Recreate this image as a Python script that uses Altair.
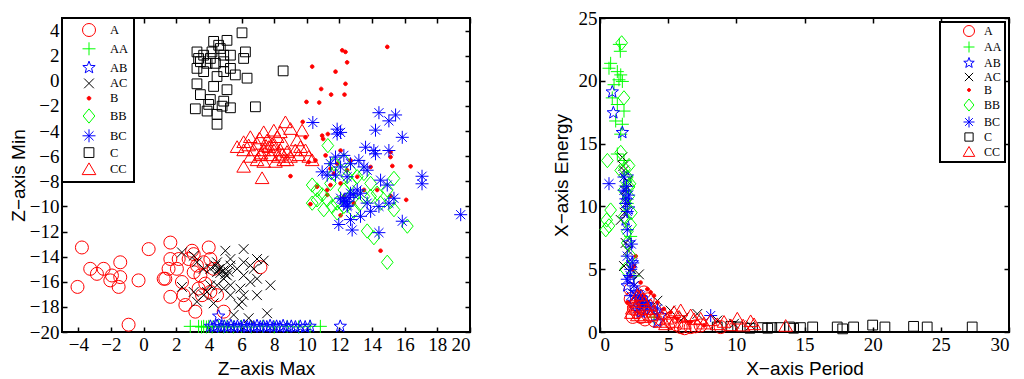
import math
import altair as alt
import pandas as pd

CATS = ["A", "AA", "AB", "AC", "B", "BB", "BC", "C", "CC"]
COLORS = ["#ff0000", "#00ff00", "#0000ff", "#000000", "#ff0000",
          "#00ff00", "#0000ff", "#000000", "#ff0000"]
FILLS = ["transparent", "transparent", "transparent", "transparent", "#ff0000",
         "transparent", "transparent", "transparent", "transparent"]

# ---------------- left panel: Z-axis Max vs Z-axis Min ----------------
L_A = [(-3.78,-13.27),(-4.05,-16.41),(-3.27,-14.97),(-2.86,-15.37),(-2.45,-14.97),(-1.94,-15.50),
       (-2.04,-15.89),(-1.53,-16.41),(-1.43,-14.45),(-1.43,-15.63),(-0.92,-19.42),(-0.31,-15.89),
       (0.31,-13.40),(1.64,-12.88),(1.64,-14.19),(1.53,-14.97),(1.33,-15.76),(1.64,-17.20),
       (2.04,-14.97),(2.45,-17.07),(2.56,-17.85),(2.97,-13.53),(3.07,-13.80),(3.27,-14.71),
       (3.48,-15.50),(3.37,-16.54),(3.99,-13.27),(4.09,-14.19),(4.29,-14.97),(3.78,-16.15),
       (4.09,-16.81),(3.17,-18.38),(4.91,-18.38),(4.50,-17.07),(7.16,-14.84),(2.76,-14.19),
       (2.35,-16.02),(2.15,-14.19),(1.23,-15.76),(3.07,-15.24),(3.68,-14.45),(3.58,-17.07)]
L_AA = [(2.86,-19.55),(3.37,-19.55),(3.55,-19.6),(3.68,-19.55),(3.85,-19.6),(3.99,-19.55),
        (4.2,-19.6),(4.6,-19.55),(4.9,-19.6),(5.11,-19.55),(5.5,-19.6),(6.0,-19.55),(6.6,-19.6),
        (7.3,-19.55),(8.0,-19.6),(8.8,-19.55),(9.5,-19.6),(10.2,-19.55),(10.83,-19.55)]
L_AB = [(4.09,-19.55),(4.3,-19.6),(4.5,-19.5),(4.6,-18.74),(4.75,-19.6),(4.95,-19.55),(5.15,-19.6),
        (5.35,-19.5),(5.55,-19.6),(5.75,-19.55),(5.95,-19.6),(6.15,-19.5),(6.35,-19.6),(6.55,-19.55),
        (6.75,-19.6),(6.95,-19.5),(7.15,-19.6),(7.35,-19.55),(7.55,-19.6),(7.75,-19.5),(7.95,-19.6),
        (8.15,-19.55),(8.35,-19.6),(8.55,-19.5),(8.8,-19.6),(9.05,-19.55),(9.3,-19.6),(9.6,-19.55),
        (9.9,-19.6),(10.2,-19.55),(12.05,-19.55)]
L_AC = [(2.35,-13.66),(3.07,-13.93),(3.27,-14.45),(4.09,-14.97),(4.40,-14.71),(4.50,-15.24),
        (4.70,-14.97),(5.11,-15.50),(5.32,-14.71),(5.01,-13.53),(6.13,-13.40),(5.32,-14.19),
        (5.73,-14.97),(6.13,-14.45),(6.54,-14.71),(6.95,-14.19),(7.36,-14.32),(6.75,-14.97),
        (6.13,-15.50),(6.54,-16.02),(6.95,-15.76),(5.93,-16.54),(5.32,-16.28),(4.91,-16.54),
        (4.50,-16.28),(4.09,-16.28),(3.68,-17.07),(3.27,-17.59),(2.35,-16.41),(3.89,-16.81),
        (5.32,-17.07),(6.13,-17.07),(6.03,-17.59),(6.95,-17.07),(7.77,-16.28),(7.57,-18.51),
        (6.44,-18.90),(5.52,-18.64),(4.29,-17.72),(5.83,-17.85),(4.91,-15.76),(4.50,-14.45),
        (3.68,-14.97),(3.07,-16.81),(4.7,-15.3),(4.9,-15.1),(5.0,-15.4),(4.6,-15.0),(5.2,-15.2)]
L_B = [(14.93,2.70),(12.17,2.43),(12.37,2.30),(10.33,1.13),(11.76,0.73),(12.47,1.47),(12.37,-0.24),
       (10.88,-0.65),(11.49,-1.10),(12.31,-1.10),(9.98,-1.68),(10.76,-1.73),(9.75,-3.27),(10.94,-4.37),
       (11.00,-4.63),(9.92,-4.50),(11.29,-4.24),(12.07,-5.55),(11.15,-5.94),(10.12,-6.47),(10.53,-6.34),
       (11.86,-6.60),(11.45,-6.99),(11.66,-7.38),(9.00,-7.59),(11.25,-8.69),(11.45,-8.30),(10.63,-8.43),
       (11.25,-9.08),(12.07,-8.17),(12.27,-9.21),(10.22,-9.82),(12.07,-10.71),(15.13,-5.68),(15.13,-6.07),
       (15.24,-6.78),(16.36,-6.81),(15.13,-9.16),(16.09,-9.48),(14.52,-13.53),(13.09,-7.64),(12.47,-7.12),
       (13.50,-8.69),(12.88,-9.74),(14.31,-8.69),(13.91,-6.86),(12.68,-6.34)]
L_BB = [(11.29,-5.16),(11.66,-6.60),(12.27,-6.34),(10.33,-8.30),(10.63,-8.69),(10.94,-9.08),(10.33,-9.74),
        (11.25,-9.48),(11.55,-10.00),(11.86,-9.74),(12.27,-8.69),(12.68,-8.17),(13.09,-7.64),(13.50,-7.38),
        (13.91,-8.17),(13.50,-9.21),(12.68,-9.21),(12.27,-10.00),(11.86,-10.52),(12.88,-10.39),(13.29,-9.74),
        (13.91,-9.21),(14.93,-8.69),(15.34,-7.77),(15.13,-9.61),(15.34,-10.26),(16.16,-11.57),(13.70,-11.96),
        (14.11,-12.49),(14.93,-14.45),(11.45,-8.17),(11.66,-7.38),(12.68,-7.12),(10.63,-9.48),(11.04,-10.26),
        (12.47,-7.64),(14.52,-9.74),(14.31,-8.95)]
L_BC = [(10.37,-3.32),(11.86,-3.85),(11.86,-4.24),(12.07,-4.11),(14.42,-2.54),(15.44,-2.72),(15.03,-3.19),
        (14.21,-3.93),(15.85,-4.50),(13.60,-5.29),(14.11,-5.55),(14.21,-5.81),(15.03,-5.55),(10.94,-7.25),
        (11.25,-7.51),(11.76,-6.07),(12.27,-5.94),(12.07,-6.86),(11.76,-7.51),(12.68,-6.60),(13.19,-6.34),
        (13.50,-6.86),(13.70,-7.12),(14.52,-7.91),(14.93,-8.30),(13.09,-8.69),(12.68,-8.95),(12.07,-9.35),
        (12.27,-9.74),(12.47,-10.00),(12.27,-9.48),(12.88,-9.08),(13.29,-8.95),(13.70,-9.74),(13.91,-10.39),
        (13.29,-10.79),(12.68,-11.05),(11.96,-11.44),(12.78,-11.88),(15.03,-9.74),(15.34,-9.35),(14.42,-10.00),
        (14.42,-12.09),(15.85,-11.18),(17.06,-7.60),(17.06,-8.20),(19.43,-10.66),(11.45,-6.60),(12.47,-7.64),
        (12.4,-9.6),(12.5,-9.9),(12.6,-9.3)]
L_C = [(6.03,3.82),(5.11,3.22),(4.29,3.14),(3.27,2.30),(3.68,2.04),(4.09,1.78),(4.70,2.57),(4.91,2.04),
       (6.24,2.30),(6.13,1.78),(5.32,2.04),(3.48,1.52),(3.89,1.39),(4.40,1.39),(4.91,1.52),(5.32,0.99),
       (3.27,0.99),(6.34,0.21),(5.62,0.47),(4.91,0.73),(4.50,0.34),(3.27,-0.24),(4.29,-0.45),(5.11,-0.71),
       (3.48,-1.10),(4.09,-1.49),(4.91,-1.62),(5.32,-2.15),(3.17,-2.23),(3.89,-2.41),(4.50,-2.67),
       (4.50,-3.46),(6.85,-2.07),(8.55,0.79),(4.81,-2.02),(3.99,-1.88),(3.68,0.73),(4.19,2.30),
       (4.60,2.83),(3.37,1.78)]
L_CC = [(8.69,-3.32),(9.00,-3.85),(9.71,-3.98),(6.13,-4.90),(6.54,-4.50),(7.36,-4.11),(7.98,-3.98),
        (6.95,-5.03),(7.57,-4.76),(8.18,-4.50),(8.59,-5.03),(5.73,-5.29),(6.13,-5.55),(6.75,-5.55),
        (7.36,-5.55),(7.98,-5.55),(8.38,-5.55),(8.79,-5.68),(9.30,-5.55),(9.61,-5.29),(9.92,-5.55),
        (6.54,-6.07),(7.16,-5.94),(7.77,-5.94),(8.28,-6.07),(9.00,-6.07),(9.51,-5.94),(10.12,-6.07),
        (10.33,-6.34),(7.36,-6.47),(8.08,-6.47),(8.79,-6.34),(6.13,-6.86),(7.26,-7.77),(6.95,-6.34),
        (7.67,-5.29),(7.87,-5.03),(9.41,-4.76),(6.44,-5.16),(8.38,-4.11),(8.59,-6.34),
        (7.1,-4.6),(7.5,-5.2),(8.0,-5.1),(7.2,-5.8),(8.5,-5.9)]

# ---------------- right panel: X-axis Period vs X-axis Energy ----------------
R_A = [(2.25,2.62),(2.49,1.84),(2.74,1.57),(3.23,1.84),(3.72,1.31),(4.45,1.05),(5.18,0.79),(5.92,0.39),
       (6.65,0.39),(3.23,3.15),(7.38,0.52),(2.25,3.41),(8.85,0.39),(2.6,2.2),(3.0,1.2),(4.0,0.9),
       (5.6,0.6),(6.2,0.3),(7.0,0.45),(3.5,2.6),(2.9,2.0),(2.4,1.2),(3.3,1.0)]
R_AA = [(0.78,21.39),(0.66,21.0),(1.27,20.73),(1.52,20.47),(1.39,20.08),(1.03,19.69),(1.64,19.95),
        (1.42,22.9),(1.49,22.35),(0.9,18.64),(1.27,18.11),(1.76,17.59),(1.15,16.8),(1.64,16.54),
        (1.52,15.75),(1.27,14.17),(1.76,13.65),(2.0,10.24),(2.25,7.61),(2.49,4.46),(3.96,1.18),(3.23,2.36)]
R_AB = [(0.9,19.11),(0.98,17.45),(1.64,15.88),(2.0,12.34),(1.88,8.92),(2.13,7.09),(2.37,5.51),(2.25,4.2),
        (2.74,3.15),(3.23,2.36),(3.72,1.84),(4.45,1.31),(2.0,3.67),(2.49,2.36),(2.98,1.57),(4.21,0.79),
        (1.9,11.0),(2.1,9.8)]
R_AC = [(1.64,13.91),(1.76,12.86),(1.88,11.29),(1.52,8.92),(1.88,7.09),(1.76,5.25),(2.86,4.59),
        (4.21,2.49),(5.18,1.71),(7.14,1.44),(8.61,0.92),(9.83,0.66),(11.05,0.52),(2.0,10.24),
        (2.49,3.67),(6.16,1.18),(1.7,13.2),(2.0,12.0),(1.8,9.5),(2.05,6.5),(2.3,5.0)]
R_B = [(2.62,6.04),(2.49,5.25),(2.37,4.99),(2.98,3.94),(3.47,3.41),(3.72,3.15),(3.23,2.89),(3.96,2.89),
       (4.21,2.36),(4.69,1.84),(5.18,1.57),(2.25,4.46),(2.0,2.36),(5.67,1.05),(6.65,0.79),(7.63,0.52)]
R_BB = [(1.59,23.02),(1.76,18.64),(0.54,13.65),(0.78,9.71),(0.49,8.92),(0.66,8.45),(0.42,8.14),
        (1.52,14.3),(2.13,13.25),(2.13,11.55),(2.25,8.53),(1.76,11.29),(1.88,10.24),(2.0,7.09),
        (1.88,4.99),(2.25,6.04),(2.0,12.34),(1.76,9.19),(1.52,12.86),
        (2.1,10.8),(1.9,12.0),(2.3,9.5),(2.0,8.0),(2.2,11.8),(1.8,13.0)]
R_BC = [(0.66,11.81),(1.76,11.29),(1.88,10.24),(2.0,8.14),(2.0,6.04),(2.25,4.99),(2.0,4.2),(2.49,3.67),
        (8.12,1.31),(2.98,2.89),(3.47,2.36),(4.21,1.84),(2.25,2.89),(1.76,12.34),(2.74,1.84),(2.86,2.76),
        (3.11,2.49),(2.62,2.89),(3.35,2.23),(2.98,2.23),(3.59,1.97),
        (1.9,10.6),(2.0,9.6),(2.1,10.9),(1.95,11.6),(2.3,7.0),(2.4,5.5),(2.2,4.5)]
R_C = [(8.6,0.4),(9.6,0.45),(10.1,0.4),(11.0,0.3),(11.9,0.35),(12.6,0.35),(13.2,0.35),(13.9,0.4),
       (14.7,0.35),(15.6,0.4),(17.4,0.4),(17.8,0.25),(18.6,0.4),(20.0,0.55),(20.9,0.4),(23.0,0.45),
       (24.0,0.4),(27.3,0.4),(12.3,0.3),(14.2,0.3)]
R_CC = [(2.74,2.89),(3.23,2.36),(3.72,2.1),(2.37,1.84),(2.74,1.31),(3.72,1.31),(4.69,1.44),(5.43,1.57),
        (5.92,1.71),(6.65,1.31),(7.38,1.05),(8.12,0.92),(9.1,0.79),(10.07,1.05),(11.05,0.84),(13.62,0.47),
        (5.43,0.79),(6.16,0.66),(4.45,0.79),(3.23,1.18),(4.21,1.84),(7.63,0.66),(9.59,0.52),(4.94,1.05),
        (3.0,2.9),(2.5,2.4),(3.9,1.6),(4.8,0.6),(5.8,1.2),(6.9,1.0),(8.6,0.6),(10.5,0.5),(11.3,0.6),
        (2.6,2.0),(3.4,1.8),(3.1,2.6),(2.3,1.5)]

LEFT = [L_A, L_AA, L_AB, L_AC, L_B, L_BB, L_BC, L_C, L_CC]
RIGHT = [R_A, R_AA, R_AB, R_AC, R_B, R_BB, R_BC, R_C, R_CC]

SERIF = "Liberation Serif, Times New Roman, serif"
SANS = "Liberation Sans, Arial, sans-serif"


def frame(series):
    rows = []
    for cat, pts in zip(CATS, series):
        for x, y in pts:
            rows.append({"cat": cat, "x": x, "y": y})
    return pd.DataFrame(rows)


def star_path():
    pts = []
    for i in range(10):
        r = 1.0 if i % 2 == 0 else 0.42
        a = -math.pi / 2 + i * math.pi / 5
        pts.append(f"{r*math.cos(a):.3f},{r*math.sin(a):.3f}")
    return "M" + "L".join(pts) + "Z"


SHAPES = [
    "circle",
    "M-1,0L1,0M0,-1L0,1",
    star_path(),
    "M-0.75,-0.75L0.75,0.75M-0.75,0.75L0.75,-0.75",
    "M0.28,0A0.28,0.28 0 1,1 -0.28,0A0.28,0.28 0 1,1 0.28,0Z",
    "M0,-1.1L0.9,0L0,1.1L-0.9,0Z",
    "M-1,0L1,0M0,-1L0,1M-0.7,-0.7L0.7,0.7M-0.7,0.7L0.7,-0.7",
    "M-0.75,-0.75L0.75,-0.75L0.75,0.75L-0.75,0.75Z",
    "M0,-1L1.05,0.8L-1.05,0.8Z",
]

AX = dict(domain=False, grid=False, ticks=True, tickSize=5, tickWidth=1.5, tickColor="black",
          offset=-5, labelFont=SERIF, labelFontSize=19, labelColor="black",
          labelPadding=3, titleFont=SANS, titleFontSize=19, titleFontWeight="normal",
          titleColor="black", format="d")
AX2 = dict(domain=False, grid=False, ticks=True, tickSize=5, tickWidth=1.5, tickColor="black",
           offset=-5, labels=False, title=None)


def panel(df, xdom, ydom, xvals, yvals, xtitle, ytitle, ytp, w, h, legend):
    xs = alt.Scale(domain=xdom, nice=False, zero=False)
    ys = alt.Scale(domain=ydom, nice=False, zero=False)
    pts = alt.Chart(df).mark_point(strokeWidth=1, opacity=1, size=169).encode(
        x=alt.X("x:Q", scale=xs, axis=alt.Axis(values=xvals, title=xtitle, titlePadding=5, **AX)),
        y=alt.Y("y:Q", scale=ys, axis=alt.Axis(values=yvals, title=ytitle, titlePadding=ytp, **AX)),
        stroke=alt.Stroke("cat:N", scale=alt.Scale(domain=CATS, range=COLORS), legend=legend),
        fill=alt.Fill("cat:N", scale=alt.Scale(domain=CATS, range=FILLS), legend=legend),
        shape=alt.Shape("cat:N", scale=alt.Scale(domain=CATS, range=SHAPES), legend=legend),
    )
    box = alt.Chart(df).mark_point(opacity=0).encode(
        x=alt.X("x:Q", scale=xs, axis=alt.Axis(orient="top", values=xvals, **AX2)),
        y=alt.Y("y:Q", scale=ys, axis=alt.Axis(orient="right", values=yvals, **AX2)),
    )
    return alt.layer(pts, box).resolve_axis(x="independent", y="independent").properties(
        width=w, height=h)


leg_left = alt.Legend(title=None, orient="top-left", offset=0, padding=5, strokeColor="black",
                      fillColor="white", symbolSize=169, symbolStrokeWidth=1,
                      labelFont=SERIF, labelFontSize=12.5, labelColor="black",
                      rowPadding=0.8, symbolOffset=15, labelOffset=14)
leg_right = alt.Legend(title=None, orient="top-right", offset=4, padding=3, strokeColor="black",
                       fillColor="white", symbolSize=121, symbolStrokeWidth=1,
                       labelFont=SERIF, labelFontSize=12, labelColor="black",
                       rowPadding=0, symbolOffset=20, labelOffset=9)

left = panel(frame(LEFT), [-5, 20], [-20, 5], list(range(-4, 21, 2)), list(range(-20, 5, 2)),
             "Z\u2212axis Max", "Z\u2212axis Min", 1, 408, 314, leg_left)
right = panel(frame(RIGHT), [0, 30], [0, 25], list(range(0, 31, 5)), list(range(0, 26, 5)),
              "X\u2212axis Period", "X\u2212axis Energy", 7, 409, 314, leg_right)

chart = alt.hconcat(left, right, spacing=79).resolve_scale(
    stroke="independent", fill="independent", shape="independent"
).resolve_legend(
    stroke="independent", fill="independent", shape="independent"
).properties(
    padding={"left": 0, "top": 0, "right": 0, "bottom": 0}, background="white"
).configure_view(stroke="black", strokeWidth=2).configure_legend(strokeWidth=2).configure_axis(
    labelFont=SERIF, titleFont=SANS)

chart.save("out.html", embed_options={"renderer": "svg", "actions": False})
